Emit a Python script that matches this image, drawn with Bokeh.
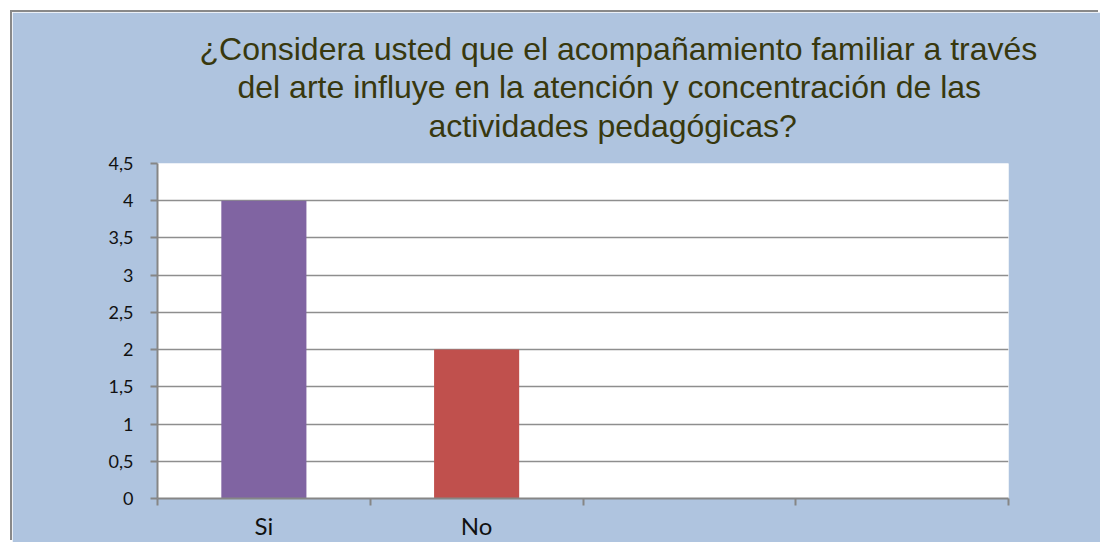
from bokeh.plotting import figure
from bokeh.models import Title, FixedTicker, Range1d, ColumnDataSource
from bokeh.embed import file_html
from bokeh.resources import INLINE

# ---- data ----
categories = ["Si", "No", "", ""]
values = [4, 2, 0, 0]
bar_colors = ["#8064A2", "#C0504D", "#9BBB59", "#4BACC6"]
y_ticks = [0, 0.5, 1, 1.5, 2, 2.5, 3, 3.5, 4, 4.5]
y_tick_labels = ["0", "0,5", "1", "1,5", "2", "2,5", "3", "3,5", "4", "4,5"]
title_lines = [
    "¿Considera usted que el acompañamiento familiar a través",
    "del arte influye en la atención y concentración de las",
    "actividades pedagógicas?",
]

BG = "#AFC4DF"
GRID = "#8E8E8E"
TITLE_COLOR = "#38380E"

n = len(categories)
xs = [i + 0.5 for i in range(n)]
src = ColumnDataSource(dict(x=xs, top=values, color=bar_colors, cat=categories))

p = figure(width=1088, height=530, output_backend="svg", toolbar_location=None,
           title=None,
           x_range=Range1d(0, n), y_range=Range1d(0, max(y_ticks)),
           min_border_left=145, min_border_top=151, min_border_right=92,
           min_border_bottom=44, background_fill_color="white",
           border_fill_color=BG, outline_line_color=None)
p.margin = (12, 0, 0, 12)
p.styles = {"box-shadow": "-2px -2px 0px 0px #898989"}

p.vbar(x="x", top="top", width=0.4, bottom=0, color="color", line_color=None, source=src)

# y axis
p.yaxis.ticker = FixedTicker(ticks=y_ticks)
p.yaxis.major_label_overrides = {t: l for t, l in zip(y_ticks, y_tick_labels)}
p.yaxis.major_tick_out = 7
p.yaxis.major_tick_in = 0
p.yaxis.minor_tick_out = 0
p.yaxis.minor_tick_in = 0
p.yaxis.major_label_standoff = 17
p.yaxis.major_label_text_font = "Lato"
p.yaxis.major_label_text_font_size = "18px"
p.yaxis.major_label_text_color = "#111111"
p.yaxis.axis_line_color = "#868686"
p.yaxis.axis_line_width = 2
p.yaxis.major_tick_line_color = "#868686"
p.yaxis.major_tick_line_width = 2

# x axis: labels at category centres, ticks on category boundaries
p.xaxis.ticker = FixedTicker(ticks=xs, minor_ticks=list(range(n + 1)))
p.xaxis.major_label_overrides = {x: c for x, c in zip(xs, categories)}
p.xaxis.major_tick_out = 0
p.xaxis.major_tick_in = 0
p.xaxis.minor_tick_out = 7
p.xaxis.minor_tick_in = 0
p.xaxis.minor_tick_line_color = "#868686"
p.xaxis.minor_tick_line_width = 2
p.xaxis.major_label_standoff = 5
p.xaxis.major_label_text_font = "Lato"
p.xaxis.major_label_text_font_size = "24px"
p.xaxis.major_label_text_color = "#111111"
p.xaxis.axis_line_color = "#868686"
p.xaxis.axis_line_width = 2

p.xgrid.grid_line_color = None
p.ygrid.ticker = FixedTicker(ticks=y_ticks)
p.ygrid.grid_line_color = GRID
p.ygrid.grid_line_width = 1.5

# title: three stacked Title panels (first added = nearest the frame)
tstyle = dict(text_font="Liberation Sans", text_font_size="32px",
              text_font_style="normal", text_color=TITLE_COLOR,
              align="left", vertical_align="middle")
p.add_layout(Title(text=title_lines[2], offset=271, standoff=37, **tstyle), "above")
p.add_layout(Title(text=title_lines[1], offset=80, standoff=-34, **tstyle), "above")
p.add_layout(Title(text=title_lines[0], offset=42, standoff=34, **tstyle), "above")

open("out.html", "w").write(file_html(p, INLINE))
